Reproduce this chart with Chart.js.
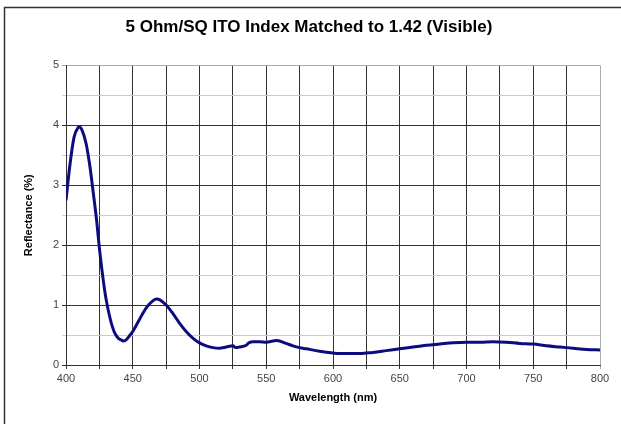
<!DOCTYPE html>
<html>
<head>
<meta charset="utf-8">
<script src="https://cdn.jsdelivr.net/npm/chart.js@4/dist/chart.umd.min.js"></script>
<style>
  html, body { margin: 0; padding: 0; background: #fff; }
  #wrap { width: 621px; height: 424px; position: relative; }
</style>
</head>
<body>
<div id="wrap"><canvas id="itoChart" width="621" height="424"></canvas></div>
<script>
// wavelength (nm) and reflectance (%)
const wavelengths = [400, 403, 406, 409, 410, 412, 415, 418, 420, 423, 425, 428, 430, 433, 436, 439, 442, 443, 445, 448, 450, 455, 460, 465, 468, 470, 475, 480, 485, 490, 495, 500, 505, 510, 515, 520, 525, 527, 530, 535, 537, 540, 545, 550, 555, 558, 565, 570, 575, 580, 590, 600, 605, 610, 620, 625, 630, 640, 650, 660, 670, 680, 690, 700, 710, 720, 730, 740, 750, 760, 770, 780, 790, 800];
const reflectance = [2.75, 3.35, 3.8, 3.96, 3.97, 3.92, 3.7, 3.3, 2.95, 2.4, 1.95, 1.4, 1.1, 0.78, 0.56, 0.45, 0.41, 0.4, 0.42, 0.5, 0.56, 0.76, 0.95, 1.07, 1.1, 1.09, 1.0, 0.86, 0.7, 0.56, 0.45, 0.37, 0.32, 0.29, 0.28, 0.3, 0.32, 0.29, 0.3, 0.33, 0.37, 0.39, 0.39, 0.38, 0.4, 0.41, 0.36, 0.32, 0.29, 0.27, 0.23, 0.2, 0.19, 0.19, 0.19, 0.2, 0.21, 0.24, 0.27, 0.3, 0.33, 0.35, 0.37, 0.38, 0.38, 0.39, 0.38, 0.36, 0.35, 0.32, 0.3, 0.28, 0.26, 0.25];

const xMin = 400, xMax = 800, xStep = 25;
const yMin = 0, yMax = 5, yStep = 0.5;

const frame = {
  id: 'frame',
  beforeDraw(chart) {
    const ctx = chart.ctx;
    ctx.save();
    ctx.strokeStyle = '#333';
    ctx.lineWidth = 1.5;
    ctx.beginPath();
    ctx.moveTo(4.5, 430);
    ctx.lineTo(4.5, 7.5);
    ctx.lineTo(630, 7.5);
    ctx.stroke();
    ctx.restore();
  }
};

Chart.defaults.font.family = '"Liberation Sans", Arial, sans-serif';

const itoChart = new Chart(document.getElementById('itoChart'), {
  type: 'line',
  data: {
    datasets: [{
      data: wavelengths.map((w, i) => ({ x: w, y: reflectance[i] })),
      borderColor: '#0c0c7e',
      borderWidth: 3,
      pointRadius: 0,
      tension: 0.4,
      cubicInterpolationMode: 'monotone',
      fill: false
    }]
  },
  options: {
    responsive: false,
    animation: false,
    layout: { padding: { left: 18, right: 21, top: 17, bottom: 15 } },
    plugins: {
      legend: { display: false },
      tooltip: { enabled: false },
      title: {
        display: true,
        text: '5 Ohm/SQ ITO Index Matched to 1.42 (Visible)',
        color: '#000',
        font: { size: 17, weight: 'bold' },
        padding: { top: 0, bottom: 28 }
      }
    },
    scales: {
      x: {
        type: 'linear',
        min: xMin,
        max: xMax,
        afterFit(scale) { scale.height = 44; },
        ticks: {
          stepSize: xStep,
          autoSkip: false,
          maxRotation: 0,
          color: '#444',
          font: { size: 11 },
          padding: 3,
          callback: v => (v % 50 === 0 ? v : '')
        },
        grid: {
          color: ctx => (ctx.tick && ctx.tick.value === xMax ? '#aaa' : '#333'),
          lineWidth: 1,
          tickLength: 4
        },
        border: { color: '#333', width: 1 },
        title: {
          display: true,
          text: 'Wavelength (nm)',
          color: '#000',
          font: { size: 11, weight: 'bold' },
          padding: { top: 2 }
        }
      },
      y: {
        min: yMin,
        max: yMax,
        afterFit(scale) { scale.width = 48; },
        ticks: {
          stepSize: yStep,
          autoSkip: false,
          color: '#444',
          font: { size: 11 },
          padding: 3,
          callback: v => (Number.isInteger(v) ? v : '')
        },
        grid: {
          color: ctx => {
            const v = ctx.tick ? ctx.tick.value : 0;
            if (v === yMax) return '#aaa';
            return Number.isInteger(v) ? '#333' : '#ccc';
          },
          lineWidth: 1,
          tickLength: 4
        },
        border: { color: '#333', width: 1 },
        title: {
          display: true,
          text: 'Reflectance (%)',
          color: '#000',
          font: { size: 11, weight: 'bold' },
          padding: { bottom: 8 }
        }
      }
    }
  },
  plugins: [frame]
});
</script>
</body>
</html>
